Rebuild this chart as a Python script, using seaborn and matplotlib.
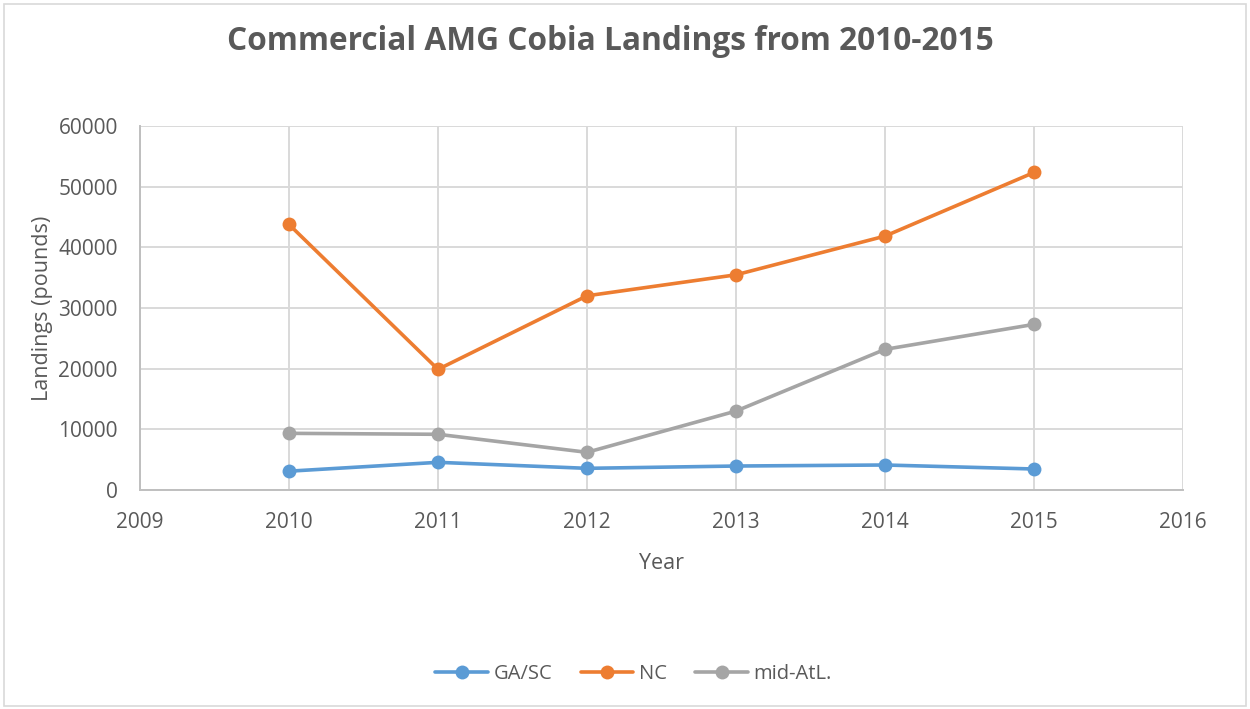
import matplotlib
matplotlib.use("Agg")
import matplotlib.pyplot as plt
from matplotlib.patches import Rectangle
import pandas as pd
import seaborn as sns

years = [2010, 2011, 2012, 2013, 2014, 2015]
ga_sc = [3100, 4560, 3570, 3950, 4120, 3460]
nc = [43770, 19880, 32010, 35470, 41850, 52340]
mid_atl = [9340, 9180, 6210, 13010, 23180, 27300]
series_names = ["GA/SC", "NC", "mid-AtL."]
series_colors = ["#5B9BD5", "#ED7D31", "#A5A5A5"]
x_ticks = [2009, 2010, 2011, 2012, 2013, 2014, 2015, 2016]
y_ticks = [0, 10000, 20000, 30000, 40000, 50000, 60000]

df = pd.DataFrame({
    "Year": years * 3,
    "Landings": ga_sc + nc + mid_atl,
    "Region": [n for n in series_names for _ in years],
})

sns.set_theme(style="white")
plt.rcParams["font.family"] = ["Open Sans", "DejaVu Sans"]

text_color = "#595959"
grid_color = "#D9D9D9"

fig = plt.figure(figsize=(12.5, 7.09), dpi=100)
ax = fig.add_axes([0.112, 0.3089, 0.8344, 0.5134])

sns.lineplot(
    data=df, x="Year", y="Landings", hue="Region",
    hue_order=series_names, palette=dict(zip(series_names, series_colors)),
    marker="o", markersize=10, markeredgewidth=0, linewidth=2.6,
    ax=ax, legend=True, zorder=3,
)

ax.set_xlim(2009, 2016)
ax.set_ylim(0, 60000)
ax.set_xticks(x_ticks)
ax.set_yticks(y_ticks)
ax.set_xticklabels([str(t) for t in x_ticks])
ax.set_yticklabels([str(t) for t in y_ticks])
ax.grid(True, color=grid_color, linewidth=1.4)
ax.set_axisbelow(True)
for side in ["top", "right"]:
    ax.spines[side].set_visible(False)
for side in ["left", "bottom"]:
    ax.spines[side].set_color("#BFBFBF")
    ax.spines[side].set_linewidth(1.4)
ax.tick_params(axis="both", length=0, labelsize=15, colors=text_color)
ax.tick_params(axis="x", pad=16)
ax.tick_params(axis="y", pad=16)

ax.set_xlabel("Year", fontsize=15.5, color=text_color, labelpad=14)
ax.set_ylabel("Landings (pounds)", fontsize=15.5, color=text_color, labelpad=4)

fig.text(0.488, 0.941, "Commercial AMG Cobia Landings from 2010-2015",
         ha="center", va="center", fontsize=22.8, fontweight="bold", color=text_color)

handles, labels = ax.get_legend_handles_labels()
ax.legend(handles, labels, loc="center", bbox_to_anchor=(0.507, 0.050),
          bbox_transform=fig.transFigure, ncol=3, frameon=False,
          fontsize=14.5, labelcolor=text_color, handlelength=2.6,
          handletextpad=0.3, columnspacing=1.4)

fig.patches.append(Rectangle((0.003, 0.004), 0.994, 0.99, transform=fig.transFigure,
                             fill=False, edgecolor="#D9D9D9", linewidth=1.2))

fig.savefig("out.png", dpi=100, facecolor="white")
